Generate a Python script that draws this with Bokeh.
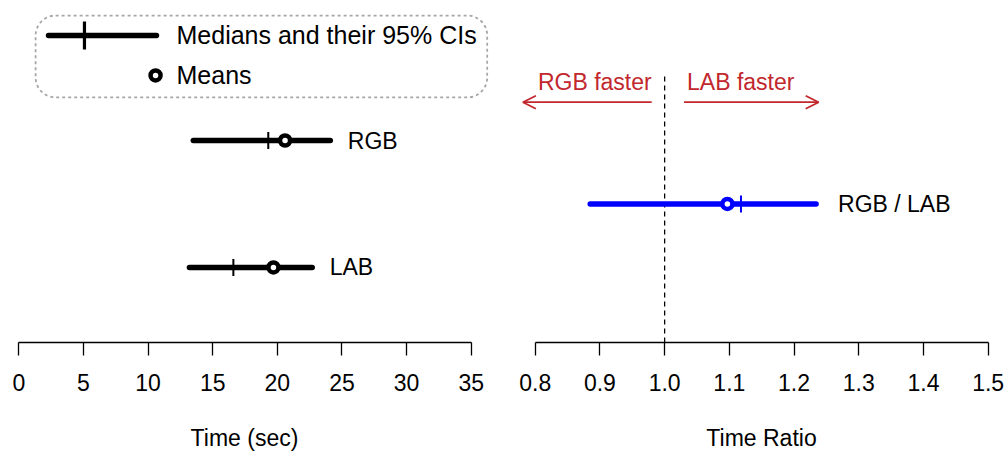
import numpy as np
from bokeh.plotting import figure
from bokeh.layouts import row
from bokeh.models import Range1d, FixedTicker, Arrow, OpenHead, ColumnDataSource
from bokeh.embed import file_html
from bokeh.resources import INLINE
from bokeh.core.properties import value

# ---------------- data ----------------
groups = ["RGB", "LAB"]
group_pos = [2, 1]
ci_low = [13.5, 13.2]
ci_high = [24.1, 22.7]
medians = [19.3, 16.6]
means = [20.6, 19.7]

ratio_label = ["RGB / LAB"]
ratio_pos = [1.5]
ratio_low = [0.885]
ratio_high = [1.234]
ratio_median = [1.118]
ratio_mean = [1.097]
ratio_ref = 1.0

time_ticks = [0, 5, 10, 15, 20, 25, 30, 35]
ratio_ticks = [0.8, 0.9, 1.0, 1.1, 1.2, 1.3, 1.4, 1.5]
ratio_tick_labels = ["0.8", "0.9", "1.0", "1.1", "1.2", "1.3", "1.4", "1.5"]

legend_labels = ["Medians and their 95% CIs", "Means"]

# ---------------- style ----------------
FONT = "Liberation Sans"
LEG_FONT = "Liberation Sans"
RED = "#C1272D"
BLUE = "#0000FF"
Y_RANGE = (0.4094, 3.1024)


def make_fig(width, xr, border_left, border_right, ticks, label):
    # frames are laid out symmetric around the axis span so the axis title is centred on it
    p = figure(width=width, height=454, x_range=Range1d(*xr), y_range=Range1d(*Y_RANGE),
               output_backend="svg", toolbar_location=None, y_axis_location=None,
               min_border_left=border_left, min_border_right=border_right, min_border_top=0,
               min_border_bottom=112)
    p.outline_line_color = None
    p.grid.visible = False
    ax = p.xaxis[0]
    ax.ticker = FixedTicker(ticks=ticks)
    ax.bounds = (ticks[0], ticks[-1])
    ax.major_tick_in = 0
    ax.major_tick_out = 13
    ax.minor_tick_in = 0
    ax.minor_tick_out = 0
    ax.axis_line_width = 1.3
    ax.major_tick_line_width = 1.3
    ax.axis_line_color = "black"
    ax.major_tick_line_color = "black"
    ax.major_label_text_font = FONT
    ax.major_label_text_font_size = "23px"
    ax.major_label_text_color = "black"
    ax.major_label_standoff = 18
    ax.axis_label = label
    ax.axis_label_text_font = FONT
    ax.axis_label_text_font_size = "23px"
    ax.axis_label_text_font_style = "normal"
    ax.axis_label_text_color = "black"
    ax.axis_label_standoff = 31
    return p


# ---------------- left panel ----------------
p1 = make_fig(500, (-1.416, 36.338), 0, 12, time_ticks, "Time (sec)")

src = ColumnDataSource(dict(g=groups, y=group_pos, lo=ci_low, hi=ci_high, med=medians, mean=means))
p1.segment(x0="lo", x1="hi", y0="y", y1="y", source=src, line_width=5.5, line_color="black",
           line_cap="round")
p1.scatter(x="med", y="y", source=src, marker="dash", angle=np.pi / 2, size=17,
           line_width=2, line_color="black")
p1.scatter(x="mean", y="y", source=src, marker="circle", size=10, line_width=4.5,
           line_color="black", fill_color="white")
p1.text(x="hi", y="y", text="g", source=src, x_offset=17.5, text_baseline="middle",
        text_font=value(FONT), text_font_size="23px", text_color="black")

# legend (drawn by hand, R-style)
leg_box = dict(left=1.3, right=36.24, top=2.984, bottom=2.339)
p1.quad(left=[leg_box["left"]], right=[leg_box["right"]], top=[leg_box["top"]],
        bottom=[leg_box["bottom"]], fill_color=None, line_color="#a6a6a6",
        line_dash="3 3", line_width=1.8, border_radius=20)
leg_y = [2.827, 2.512]
p1.segment(x0=[2.3], x1=[10.65], y0=[leg_y[0]], y1=[leg_y[0]], line_width=5.5,
           line_color="black", line_cap="round")
p1.scatter(x=[5.08], y=[leg_y[0]], marker="dash", angle=np.pi / 2, size=28,
           line_width=3.2, line_color="black")
p1.scatter(x=[10.58], y=[leg_y[1]], marker="circle", size=10, line_width=4.5,
           line_color="black", fill_color="white")
p1.text(x=[12.2, 12.2], y=leg_y, text=legend_labels, text_baseline="middle",
        text_font=value(LEG_FONT), text_font_size="25px", text_color="black")

# ---------------- right panel ----------------
p2 = make_fig(506, (0.7711, 1.5283), 16, 0, ratio_ticks, "Time Ratio")
p2.xaxis[0].major_label_overrides = {t: s for t, s in zip(ratio_ticks, ratio_tick_labels)}

p2.segment(x0=[ratio_ref], x1=[ratio_ref], y0=[Y_RANGE[0]], y1=[2.52], line_color="black",
           line_width=1.3, line_dash="5 4")

src2 = ColumnDataSource(dict(g=ratio_label, y=ratio_pos, lo=ratio_low, hi=ratio_high,
                             med=ratio_median, mean=ratio_mean))
p2.segment(x0="lo", x1="hi", y0="y", y1="y", source=src2, line_width=5.5, line_color=BLUE,
           line_cap="round")
p2.scatter(x="med", y="y", source=src2, marker="dash", angle=np.pi / 2, size=17,
           line_width=2, line_color=BLUE)
p2.scatter(x="mean", y="y", source=src2, marker="circle", size=10, line_width=4.5,
           line_color=BLUE, fill_color="white")
p2.text(x="hi", y="y", text="g", source=src2, x_offset=22, text_baseline="middle",
        text_font=value(FONT), text_font_size="23px", text_color="black")

arrow_y = 2.3016
p2.add_layout(Arrow(end=OpenHead(size=13, line_color=RED, line_width=1.8),
                    x_start=0.98, y_start=arrow_y, x_end=0.781, y_end=arrow_y,
                    line_color=RED, line_width=1.8))
p2.add_layout(Arrow(end=OpenHead(size=13, line_color=RED, line_width=1.8),
                    x_start=1.03, y_start=arrow_y, x_end=1.238, y_end=arrow_y,
                    line_color=RED, line_width=1.8))
p2.text(x=[0.98], y=[2.457], text=["RGB faster"], text_align="right", text_baseline="middle",
        text_font=value(FONT), text_font_size="23px", text_color=RED)
p2.text(x=[1.03], y=[2.457], text=["LAB faster"], text_align="left", text_baseline="middle",
        x_offset=3, text_font=value(FONT), text_font_size="23px", text_color=RED)

layout = row(p1, p2, spacing=0)
open("out.html", "w").write(file_html(layout, INLINE))
